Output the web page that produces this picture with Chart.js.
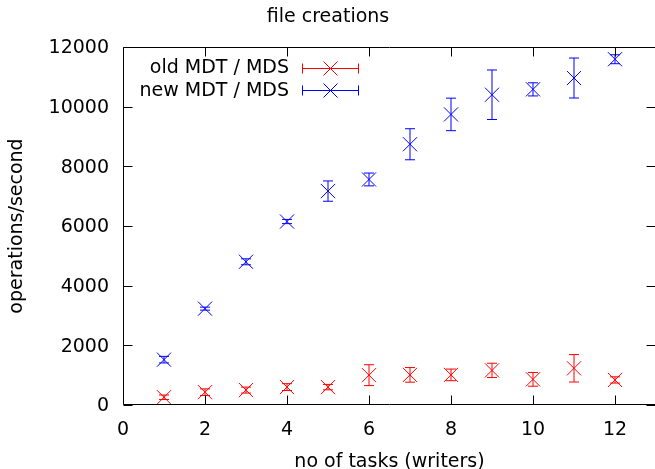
<!DOCTYPE html>
<html>
<head>
<meta charset="utf-8">
<script src="https://cdn.jsdelivr.net/npm/chart.js@4.4.1/dist/chart.umd.min.js"></script>
<style>
  html, body { margin: 0; padding: 0; background: #fff; overflow: hidden; }
  #wrap { width: 660px; height: 469px; }
</style>
</head>
<body>
<div id="wrap"><canvas id="c" width="660" height="469"></canvas></div>
<script>
// ---- data ----
const tasks = [1, 2, 3, 4, 5, 6, 7, 8, 9, 10, 11, 12];
const oldMean = [260, 430, 500, 600, 600, 1000, 1010, 1010, 1160, 860, 1230, 840];
const oldErr  = [75, 110, 100, 115, 90, 350, 245, 195, 240, 230, 460, 105];
const newMean = [1520, 3230, 4800, 6150, 7170, 7560, 8740, 9740, 10400, 10580, 10960, 11590];
const newErr  = [110, 50, 100, 70, 340, 215, 520, 545, 830, 220, 670, 150];
const seriesLabels = ['old MDT / MDS', 'new MDT / MDS'];
const chartTitle = 'file creations';
const xTitle = 'no of tasks (writers)';
const yTitle = 'operations/second';

const FONT = 'DejaVu Sans';
Chart.defaults.font.family = FONT;
Chart.defaults.font.size = 19;
Chart.defaults.color = '#000';

function pts(xs, ys, es) {
  return xs.map((x, i) => ({ x: x, y: ys[i], err: es[i] }));
}

const errorBars = {
  id: 'errorBars',
  afterDatasetsDraw(chart) {
    const { ctx, scales: { x, y } } = chart;
    ctx.save();
    ctx.lineWidth = 1;
    chart.data.datasets.forEach(ds => {
      ctx.strokeStyle = ds.borderColor;
      ds.data.forEach(p => {
        const px = x.getPixelForValue(p.x);
        const yt = y.getPixelForValue(p.y + p.err);
        const yb = y.getPixelForValue(p.y - p.err);
        ctx.beginPath();
        ctx.moveTo(px, yt); ctx.lineTo(px, yb);
        ctx.moveTo(px - 5, yt); ctx.lineTo(px + 5, yt);
        ctx.moveTo(px - 5, yb); ctx.lineTo(px + 5, yb);
        ctx.stroke();
      });
    });
    ctx.restore();
  }
};

const frameAndTicks = {
  id: 'frameAndTicks',
  afterDraw(chart) {
    const { ctx, chartArea: a, scales: { x, y } } = chart;
    ctx.save();
    ctx.strokeStyle = '#000';
    ctx.lineWidth = 1;
    const L = Math.round(a.left) + 0.5, R = Math.round(a.right) - 0.5;
    const T = Math.round(a.top) + 0.5, B = Math.round(a.bottom) - 0.5;
    ctx.beginPath();
    ctx.rect(L, T, R - L, B - T);
    const tl = 9;
    x.ticks.forEach(t => {
      const px = Math.round(x.getPixelForValue(t.value)) + 0.5;
      ctx.moveTo(px, B); ctx.lineTo(px, B - tl);
      ctx.moveTo(px, T); ctx.lineTo(px, T + tl);
    });
    y.ticks.forEach(t => {
      const py = Math.round(y.getPixelForValue(t.value)) + 0.5;
      ctx.moveTo(L, py); ctx.lineTo(L + tl, py);
      ctx.moveTo(R, py); ctx.lineTo(R - tl, py);
    });
    ctx.stroke();
    ctx.restore();
  }
};

const keyBox = {
  id: 'keyBox',
  afterDraw(chart) {
    const { ctx, chartArea: a } = chart;
    ctx.save();
    ctx.font = '19px "' + FONT + '"';
    ctx.textAlign = 'right';
    ctx.textBaseline = 'middle';
    chart.data.datasets.forEach((ds, i) => {
      const cy = a.top + 20.5 + i * 22.5;
      ctx.fillStyle = '#000';
      ctx.fillText(ds.label, a.left + 166, cy + 1);
      const x0 = a.left + 179, x1 = a.left + 236, xm = (x0 + x1) / 2;
      ctx.strokeStyle = ds.borderColor;
      ctx.lineWidth = 1;
      const yy = Math.round(cy) + 0.5;
      ctx.beginPath();
      ctx.moveTo(x0, yy); ctx.lineTo(x1, yy);
      ctx.moveTo(x0 + 0.5, yy - 5); ctx.lineTo(x0 + 0.5, yy + 5);
      ctx.moveTo(x1 - 0.5, yy - 5); ctx.lineTo(x1 - 0.5, yy + 5);
      ctx.moveTo(xm - 7, yy - 7); ctx.lineTo(xm + 7, yy + 7);
      ctx.moveTo(xm - 7, yy + 7); ctx.lineTo(xm + 7, yy - 7);
      ctx.stroke();
    });
    ctx.restore();
  }
};

new Chart(document.getElementById('c'), {
  type: 'scatter',
  data: {
    datasets: [
      {
        label: seriesLabels[0],
        data: pts(tasks, oldMean, oldErr),
        borderColor: '#ff0000',
        backgroundColor: '#ff0000',
        pointStyle: 'crossRot',
        pointRadius: 10,
        pointBorderWidth: 1
      },
      {
        label: seriesLabels[1],
        data: pts(tasks, newMean, newErr),
        borderColor: '#0000ff',
        backgroundColor: '#0000ff',
        pointStyle: 'crossRot',
        pointRadius: 10,
        pointBorderWidth: 1
      }
    ]
  },
  options: {
    responsive: false,
    animation: false,
    events: [],
    layout: { autoPadding: false, padding: { left: 0, right: 4, top: 0, bottom: 0 } },
    plugins: {
      legend: { display: false },
      tooltip: { enabled: false },
      title: {
        display: true,
        text: chartTitle,
        color: '#000',
        font: { size: 19, weight: 'normal', lineHeight: 1.2 },
        padding: { top: 5.5, bottom: 18.7 }
      }
    },
    scales: {
      x: {
        type: 'linear',
        min: 0, max: 13,
        ticks: { stepSize: 2, includeBounds: false, padding: 13.5, color: '#000', maxRotation: 0, font: { size: 19 } },
        grid: { display: false, drawTicks: false },
        border: { display: false },
        title: { display: true, text: xTitle, color: '#000', font: { size: 19, lineHeight: 0.94 }, padding: { top: 0, bottom: -2 } },
        afterFit(s) { s.height = 64; s.paddingLeft = 0; s.paddingRight = 0; }
      },
      y: {
        type: 'linear',
        min: 0, max: 12000,
        ticks: {
          stepSize: 2000, padding: 14, color: '#000', font: { size: 19 }, labelOffset: 1.5,
          callback: v => String(v)
        },
        grid: { display: false, drawTicks: false },
        border: { display: false },
        title: { display: true, text: yTitle, color: '#000', font: { size: 19, lineHeight: 1.2 }, padding: { top: 6, bottom: 0 } },
        afterFit(s) { s.width = 123; s.paddingTop = 0; s.paddingBottom = 0; }
      }
    }
  },
  plugins: [errorBars, frameAndTicks, keyBox]
});
</script>
</body>
</html>
